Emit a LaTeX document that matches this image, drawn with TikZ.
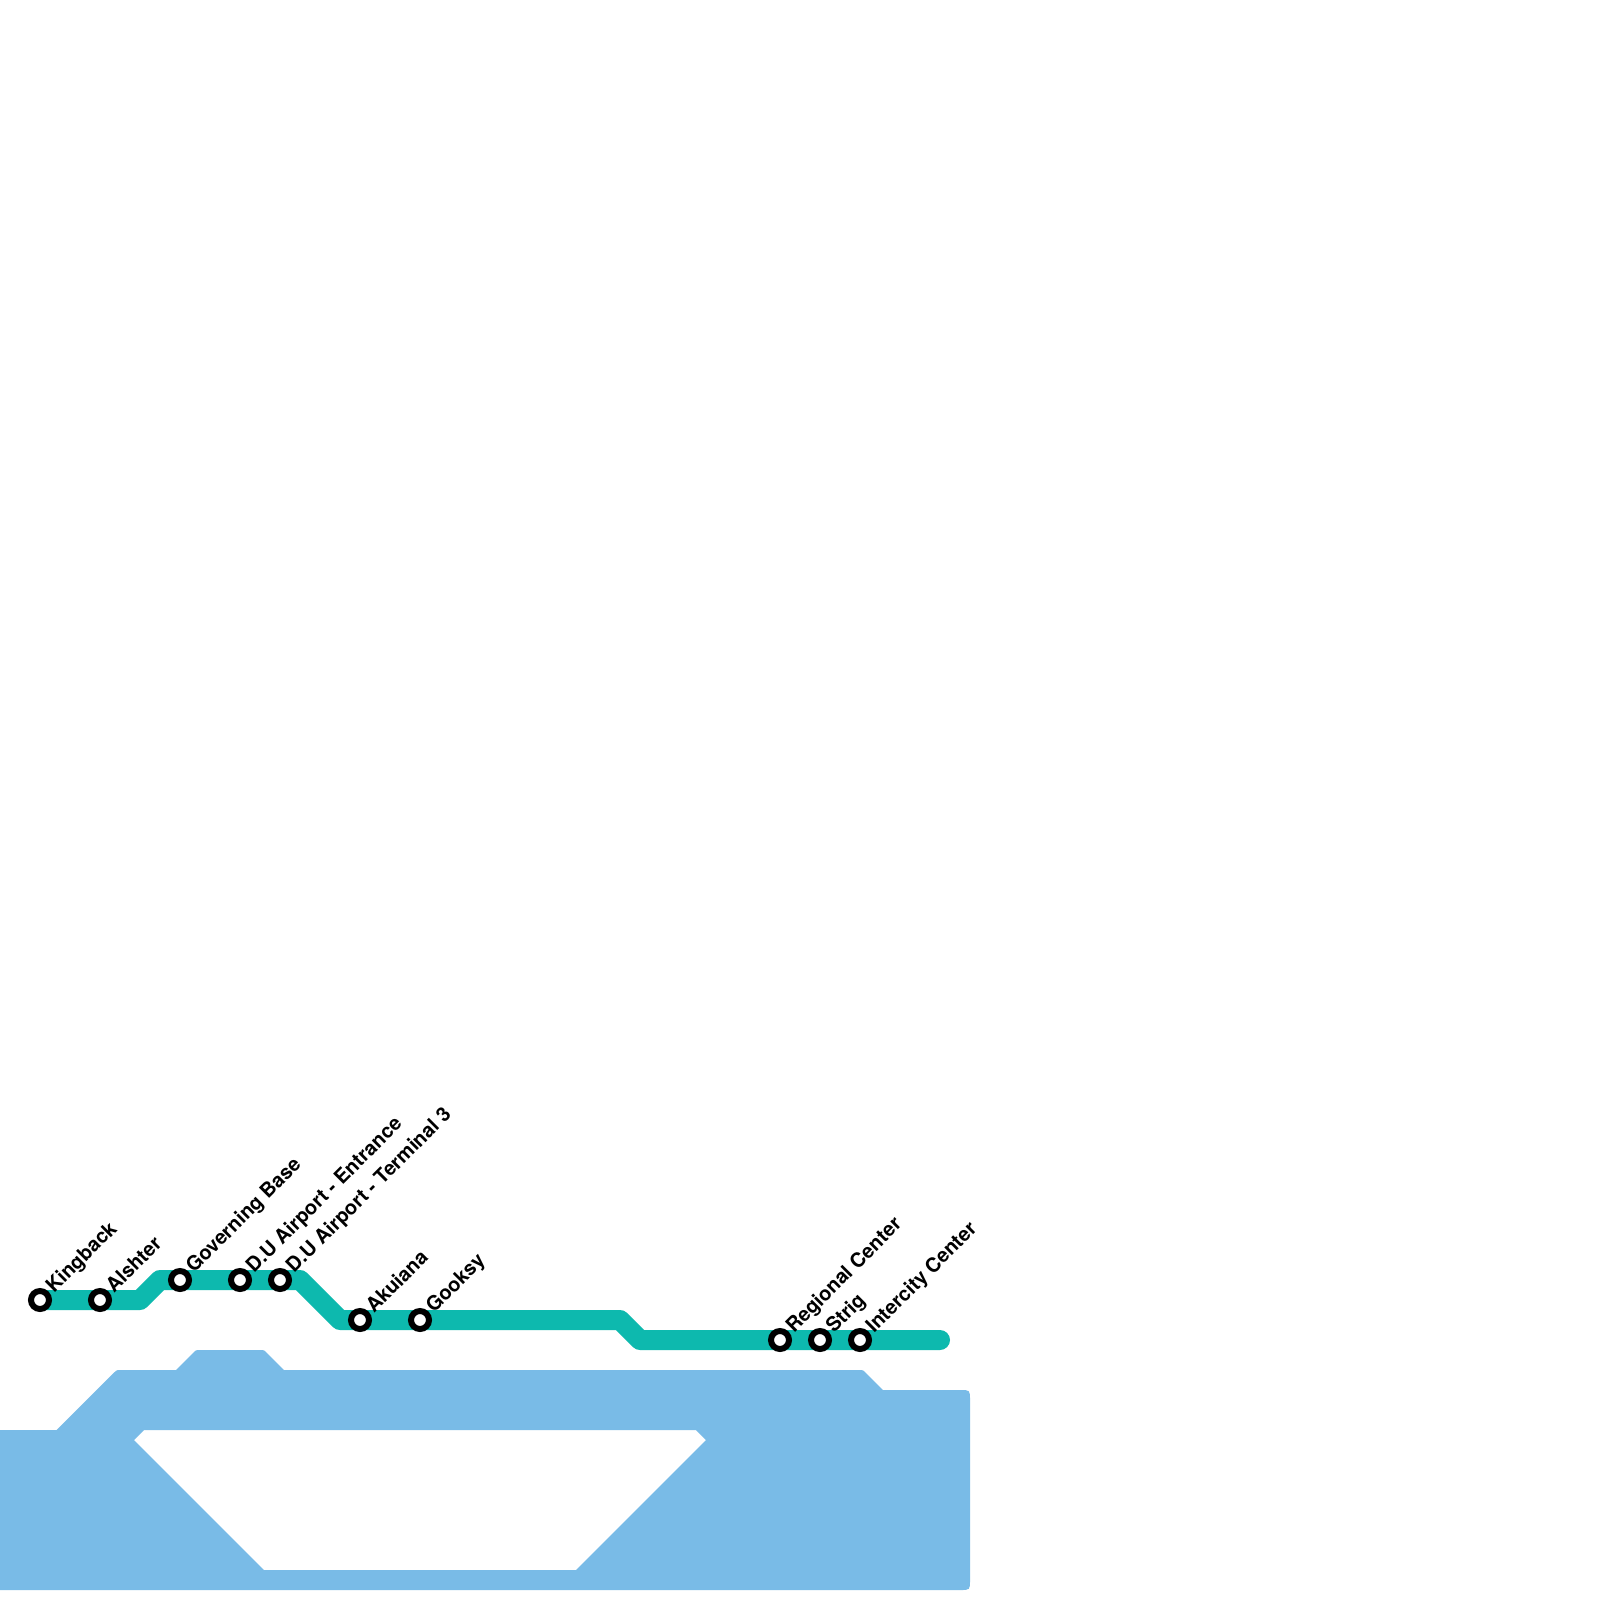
\documentclass[tikz,border=0pt]{standalone}
\usepackage{fontspec}
\setmainfont{TeX Gyre Heros}
\begin{document}
\begin{tikzpicture}[x=1pt,y=-1pt,
  water/.style={fill=waterblue,draw=none,even odd rule},
  route/.style={draw=routeteal,line width=20pt,line join=round,line cap=round},
  stop/.style={circle,draw=black,fill=white,line width=6pt,minimum size=18pt,inner sep=0pt,outer sep=0pt},
  stoplabel/.style={rotate=45,anchor=base west,inner sep=0pt,font=\fontsize{20}{24}\selectfont\bfseries,text=black}]
\definecolor{waterblue}{HTML}{79BBE7}
\definecolor{routeteal}{HTML}{0DB9AE}
\useasboundingbox (0,0) rectangle (1600,1600);
\fill[white] (0,0) rectangle (1600,1600);
% water
\fill[water] (-10,1430) -- (56.7,1430) -- (113.7,1373) .. controls (116.7,1370) .. (120.7,1370) -- (176,1370) -- (193,1353) .. controls (196,1350) .. (200,1350) -- (260,1350) .. controls (264,1350) .. (267,1353) -- (284,1370) -- (859,1370) .. controls (863,1370) .. (866,1373) -- (883,1390) -- (960,1390) .. controls (970,1390) .. (970,1400) -- (970,1580) .. controls (970,1590) .. (960,1590) -- (-10,1590) -- cycle
 (144,1430) -- (134,1440) -- (264,1570) -- (576,1570) -- (706,1440) -- (696,1430) -- cycle;
% positions
\coordinate (pKingback) at (40,1300);
\coordinate (pAlshter) at (100,1300);
\coordinate (pGoverning) at (180,1280);
\coordinate (pEntrance) at (240,1280);
\coordinate (pTerminal) at (280,1280);
\coordinate (pAkuiana) at (360,1320);
\coordinate (pGooksy) at (420,1320);
\coordinate (pRegional) at (780,1340);
\coordinate (pStrig) at (820,1340);
\coordinate (pIntercity) at (860,1340);
\coordinate (bendA) at (140,1300);
\coordinate (bendB) at (160,1280);
\coordinate (bendC) at (300,1280);
\coordinate (bendD) at (340,1320);
\coordinate (bendE) at (620,1320);
\coordinate (bendF) at (640,1340);
\coordinate (lineEnd) at (940,1340);
\draw[route] (pKingback) -- (pAlshter) -- (bendA) -- (bendB) -- (pGoverning) -- (pEntrance) -- (pTerminal) -- (bendC) -- (bendD) -- (pAkuiana) -- (pGooksy) -- (bendE) -- (bendF) -- (pRegional) -- (pStrig) -- (pIntercity) -- (lineEnd);
% stations
\foreach \n in {Kingback,Alshter,Governing,Entrance,Terminal,Akuiana,Gooksy,Regional,Strig,Intercity}
  \node[stop] (s\n) at (p\n) {};
% labels
\node[stoplabel] (lKingback) at ([shift={(14,-6)}]pKingback) {Kingback};
\node[stoplabel] (lAlshter) at ([shift={(14,-6)}]pAlshter) {Alshter};
\node[stoplabel] (lGoverning) at ([shift={(14,-6)}]pGoverning) {Governing Base};
\node[stoplabel] (lEntrance) at ([shift={(14,-6)}]pEntrance) {D.U Airport - Entrance};
\node[stoplabel] (lTerminal) at ([shift={(14,-6)}]pTerminal) {D.U Airport - Terminal 3};
\node[stoplabel] (lAkuiana) at ([shift={(14,-6)}]pAkuiana) {Akuiana};
\node[stoplabel] (lGooksy) at ([shift={(14,-6)}]pGooksy) {Gooksy};
\node[stoplabel] (lRegional) at ([shift={(14,-6)}]pRegional) {Regional Center};
\node[stoplabel] (lStrig) at ([shift={(14,-6)}]pStrig) {Strig};
\node[stoplabel] (lIntercity) at ([shift={(14,-6)}]pIntercity) {Intercity Center};
\end{tikzpicture}
\end{document}
